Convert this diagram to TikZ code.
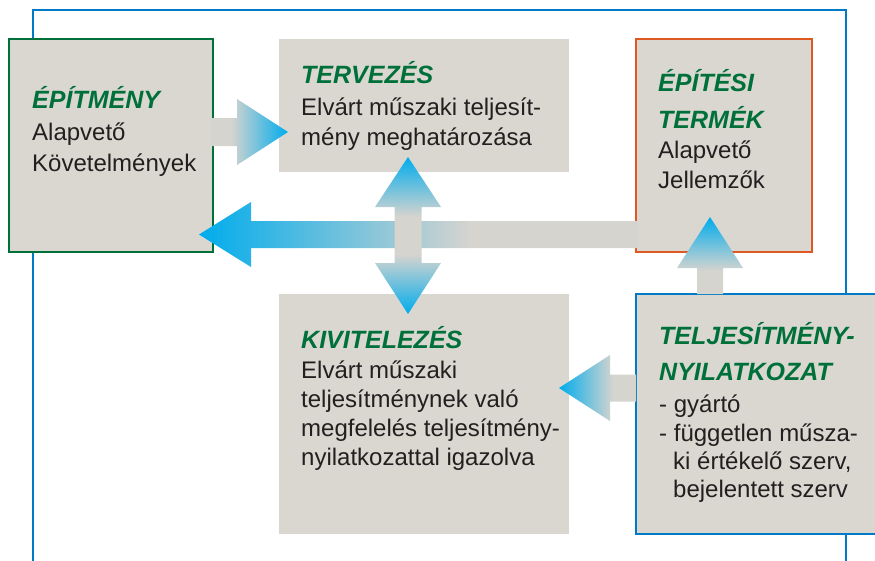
\documentclass[tikz,border=0pt]{standalone}
\usepackage{fontspec}
\setmainfont{Liberation Sans}
\definecolor{boxgray}{RGB}{218,215,209}
\definecolor{agray}{RGB}{214,212,207}
\definecolor{acyan}{RGB}{0,172,236}
\definecolor{hgreen}{RGB}{0,112,58}
\definecolor{fblue}{RGB}{0,122,198}
\definecolor{borange}{RGB}{222,88,34}
\definecolor{txt}{RGB}{35,31,32}
\pgfdeclarehorizontalshading{shRight}{100bp}{color(0bp)=(agray); color(25bp)=(agray); color(38bp)=(agray); color(75bp)=(acyan); color(100bp)=(acyan)}
\pgfdeclarehorizontalshading{shLong}{100bp}{color(0bp)=(acyan); color(25bp)=(acyan); color(56bp)=(agray); color(75bp)=(agray); color(100bp)=(agray)}
\pgfdeclarehorizontalshading{shLeft}{100bp}{color(0bp)=(acyan); color(25bp)=(acyan); color(60bp)=(agray); color(75bp)=(agray); color(100bp)=(agray)}
\pgfdeclareverticalshading{shDouble}{100bp}{color(0bp)=(acyan); color(25bp)=(acyan); color(44bp)=(agray); color(56bp)=(agray); color(75bp)=(acyan); color(100bp)=(acyan)}
\pgfdeclareverticalshading{shUp}{100bp}{color(0bp)=(agray); color(25bp)=(agray); color(40bp)=(agray); color(75bp)=(acyan); color(100bp)=(acyan)}
\begin{document}
\begin{tikzpicture}[x=1pt,y=-1pt,
  box/.style={fill=boxgray, inner sep=0pt, anchor=north west, line width=2pt},
  headtxt/.style={anchor=base west, inner sep=0pt, text=hgreen, font=\fontsize{25}{30}\selectfont\bfseries\itshape},
  bodytxt/.style={anchor=base west, inner sep=0pt, text=txt, font=\fontsize{24}{30}\selectfont},
  frame/.style={draw=fblue, line width=2pt}]
\useasboundingbox (0,0) rectangle (875,560);
\clip (0,0) rectangle (875,560);
% outer frame
\draw[frame] (33,600) -- (33,10) -- (846,10) -- (846,600);
% boxes
\node[box, draw=hgreen, minimum width=204pt, minimum height=213pt] (epitmeny) at (8,38) {};
\node[box, minimum width=290pt, minimum height=133pt] (tervezes) at (278,38) {};
\node[box, draw=borange, minimum width=176pt, minimum height=213pt] (termek) at (635,38) {};
\node[box, minimum width=290pt, minimum height=240pt] (kivitel) at (278,293) {};
\node[box, draw=fblue, minimum width=250pt, minimum height=240pt] (teljes) at (635,293) {};
% arrows
\shade[shading=shRight] (211,118) -- (237,118) -- (237,99) -- (288,132) -- (237,165) -- (237,146) -- (211,146) -- cycle;
\shade[shading=shLong] (199,234.5) -- (251,202) -- (251,221) -- (637,221) -- (637,248) -- (251,248) -- (251,267) -- cycle;
\shade[shading=shDouble] (408,157) -- (441,207) -- (421.5,207) -- (421.5,263) -- (441,263) -- (408,314) -- (375,263) -- (394.5,263) -- (394.5,207) -- (375,207) -- cycle;
\shade[shading=shUp] (710,217) -- (743,268) -- (723,268) -- (723,294) -- (697,294) -- (697,268) -- (677,268) -- cycle;
\shade[shading=shLeft] (559,388) -- (610,355) -- (610,374.5) -- (636,374.5) -- (636,401.5) -- (610,401.5) -- (610,421) -- cycle;
% texts
\node[headtxt] (t1h) at (32,108) {ÉPÍTMÉNY};
\node[bodytxt] (t1a) at (32,140) {Alapvető};
\node[bodytxt] (t1b) at (32,171) {Követelmények};
\node[headtxt] (t2h) at (301,83) {TERVEZÉS};
\node[bodytxt] (t2a) at (301,115) {Elvárt műszaki teljesít-};
\node[bodytxt] (t2b) at (301,145) {mény meghatározása};
\node[headtxt] (t3h) at (658,91) {ÉPÍTÉSI};
\node[headtxt] (t3i) at (658,128) {TERMÉK};
\node[bodytxt] (t3a) at (658,158) {Alapvető};
\node[bodytxt] (t3b) at (658,188) {Jellemzők};
\node[headtxt] (t4h) at (301,348) {KIVITELEZÉS};
\node[bodytxt] (t4a) at (301,378) {Elvárt műszaki};
\node[bodytxt] (t4b) at (301,407) {teljesítménynek való};
\node[bodytxt] (t4c) at (301,436) {megfelelés teljesítmény-};
\node[bodytxt] (t4d) at (301,465) {nyilatkozattal igazolva};
\node[headtxt] (t5h) at (659,344) {TELJESÍTMÉNY-};
\node[headtxt] (t5i) at (659,380) {NYILATKOZAT};
\node[bodytxt] (t5a) at (659,412) {- gyártó};
\node[bodytxt] (t5b) at (659,441) {- független műsza-};
\node[bodytxt] (t5c) at (673,469) {ki értékelő szerv,};
\node[bodytxt] (t5d) at (673,497) {bejelentett szerv};
\end{tikzpicture}
\end{document}
